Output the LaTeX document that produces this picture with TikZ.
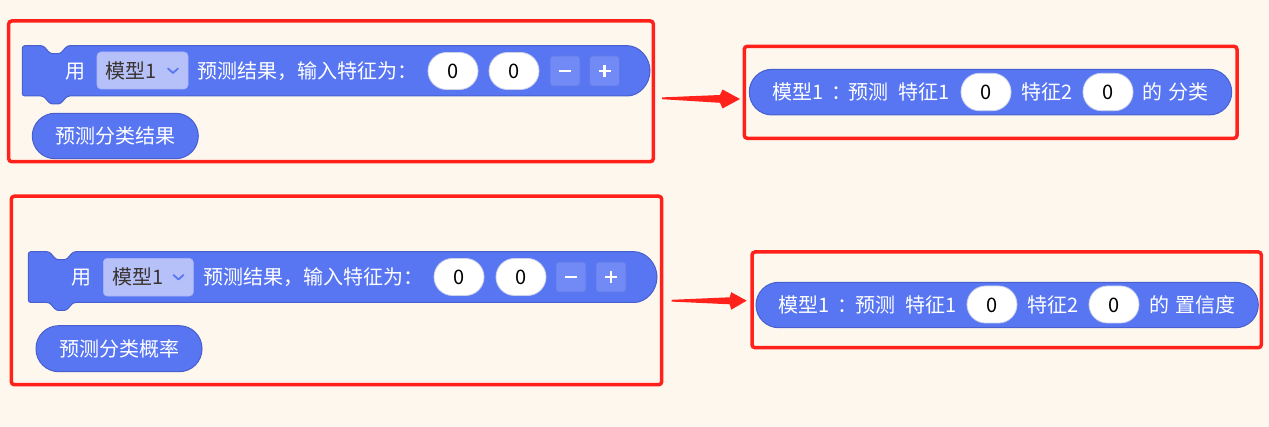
\documentclass[tikz,border=0pt]{standalone}
\usepackage{fontspec}
\setmainfont{Noto Sans CJK SC}
\usetikzlibrary{calc}
\definecolor{bg}{RGB}{254,247,238}
\definecolor{blk}{RGB}{88,118,242}
\definecolor{blkd}{RGB}{72,96,205}
\definecolor{ddfill}{RGB}{182,193,250}
\definecolor{dddraw}{RGB}{168,181,246}
\definecolor{ddtext}{RGB}{58,52,46}
\definecolor{btn}{RGB}{114,138,246}
\definecolor{btnd}{RGB}{98,121,228}
\definecolor{frm}{RGB}{255,34,26}
\definecolor{ovl}{RGB}{205,210,232}
\begin{document}
\begin{tikzpicture}[x=1pt,y=-1pt,
  font=\fontsize{20}{24}\selectfont,
  txt/.style={anchor=west, inner sep=0pt, text=white, text height=16.5pt, text depth=1.3pt},
  frame/.style={draw=frm, line width=3.5pt, rounded corners=3pt, inner sep=0pt},
  bar/.style={fill=blk, draw=blkd, line width=1pt, rounded corners=2.5pt},
  pill/.style={fill=blk, draw=blkd, line width=1pt, rounded corners=22.7pt, inner sep=0pt,
    minimum height=45.4pt, text=white, text height=16.5pt, text depth=1.3pt},
  oval/.style={fill=white, draw=ovl, line width=0.8pt, rounded corners=18.5pt, inner sep=0pt,
    minimum width=50pt, minimum height=37pt, text=black, text height=16.5pt, text depth=1.3pt},
  dropdown/.style={fill=ddfill, draw=dddraw, line width=0.6pt, rounded corners=4pt, inner sep=0pt,
    minimum width=91pt, minimum height=37pt},
  btnbox/.style={fill=btn, draw=btnd, line width=0.8pt, rounded corners=3pt, inner sep=0pt,
    minimum width=30pt, minimum height=30pt},
  sign/.style={draw=white, line width=2.6pt},
  chev/.style={draw=blk, line width=1.8pt, line cap=round, line join=round},
  redarrow/.style={fill=frm},
]
\useasboundingbox (0,0) rectangle (1269,427);
\fill[bg] (0,0) rectangle (1269,427);

% ---------- red frames ----------
\node[frame, minimum width=644.6pt, minimum height=140.7pt] (fA) at (331,91.35) {};
\node[frame, minimum width=492.7pt, minimum height=92pt] (fB) at (990.65,92.3) {};
\node[frame, minimum width=650.4pt, minimum height=188.5pt] (fC) at (336.5,290.45) {};
\node[frame, minimum width=509.3pt, minimum height=95.7pt] (fD) at (1006.65,299.85) {};

% ---------- top-left block ----------
\draw[bar] (340,45.7) -- (624.85,45.7) arc[start angle=90, end angle=-90, radius=25.15pt]
  -- (67.3,96) -- (60.3,104) -- (50.3,104) -- (43.3,96) -- (22.3,96)
  -- (22.3,45.7) -- (43.3,45.7) -- (50.3,53.7) -- (60.3,53.7) -- (67.3,45.7) -- cycle;
\node[txt] (tUse) at (65.7,71) {用};
\node[dropdown] (tDD) at (142.5,70.5) {};
\node[txt, text=ddtext] (tModel) at (105.7,71) {模型1};
\draw[chev] ($(tDD.center)+(25.5,-2)$) -- ($(tDD.center)+(30.5,2.5)$) -- ($(tDD.center)+(35.5,-2)$);
\node[txt] (tLabel) at (197.3,71) {预测结果，输入特征为：};
\node[oval] (tO1) at (453,71) {0};
\node[oval] (tO2) at (514,71) {0};
\node[btnbox] (tMinus) at (565,71) {};
\node[btnbox] (tPlus) at (604.5,71) {};
\draw[sign] ($(tMinus.center)+(-6,0)$) -- ($(tMinus.center)+(6,0)$);
\draw[sign] ($(tPlus.center)+(-6,0)$) -- ($(tPlus.center)+(6,0)$);
\draw[sign] ($(tPlus.center)+(0,-6)$) -- ($(tPlus.center)+(0,6)$);
\node[pill, minimum width=166pt] (tRes) at (115.3,136) {预测分类结果};

% ---------- bottom-left block ----------
\draw[bar] (340,251.7) -- (631.6,251.7) arc[start angle=90, end angle=-90, radius=25.4pt]
  -- (73.3,302.5) -- (66.3,310.5) -- (56.3,310.5) -- (49.3,302.5) -- (28.3,302.5)
  -- (28.3,251.7) -- (49.3,251.7) -- (56.3,259.7) -- (66.3,259.7) -- (73.3,251.7) -- cycle;
\node[txt] (bUse) at (71.7,277) {用};
\node[dropdown, minimum width=90pt, minimum height=37.7pt] (bDD) at (148.3,277.2) {};
\node[txt, text=ddtext] (bModel) at (112.3,277) {模型1};
\draw[chev] ($(bDD.center)+(25.2,-2.2)$) -- ($(bDD.center)+(30.2,2.3)$) -- ($(bDD.center)+(35.2,-2.2)$);
\node[txt] (bLabel) at (203,277) {预测结果，输入特征为：};
\node[oval] (bO1) at (459,277) {0};
\node[oval] (bO2) at (521,277) {0};
\node[btnbox] (bMinus) at (571,277) {};
\node[btnbox] (bPlus) at (611,277) {};
\draw[sign] ($(bMinus.center)+(-6,0)$) -- ($(bMinus.center)+(6,0)$);
\draw[sign] ($(bPlus.center)+(-6,0)$) -- ($(bPlus.center)+(6,0)$);
\draw[sign] ($(bPlus.center)+(0,-6)$) -- ($(bPlus.center)+(0,6)$);
\node[pill, minimum width=166pt, minimum height=46pt] (bRes) at (119,348.7) {预测分类概率};

% ---------- top-right block ----------
\node[pill, minimum width=482.4pt, minimum height=45.7pt] (rA) at (990.5,92.15) {};
\node[txt] (rAm) at (772,92) {模型1};
\node[txt] (rAc) at (831.5,92) {：};
\node[txt] (rAp) at (848,92) {预测};
\node[txt] (rAf1) at (898,92) {特征1};
\node[oval, minimum height=37.4pt] (rAo1) at (986,92) {0};
\node[txt] (rAf2) at (1021,92) {特征2};
\node[oval, minimum height=37.4pt] (rAo2) at (1108,92) {0};
\node[txt] (rAd) at (1142,92) {的};
\node[txt] (rAk) at (1168,92) {分类};

% ---------- bottom-right block ----------
\node[pill, minimum width=502.3pt] (rD) at (1007.15,305) {};
\node[txt] (rDm) at (778.3,304.5) {模型1};
\node[txt] (rDc) at (837.5,304.5) {：};
\node[txt] (rDp) at (855,304.5) {预测};
\node[txt] (rDf1) at (905.7,304.5) {特征1};
\node[oval] (rDo1) at (992,304.5) {0};
\node[txt] (rDf2) at (1027,304.5) {特征2};
\node[oval] (rDo2) at (1114,304.5) {0};
\node[txt] (rDd) at (1149,304.5) {的};
\node[txt] (rDk) at (1175,304.5) {置信度};

% ---------- arrows ----------
\coordinate (a1s) at (662,98.3);
\coordinate (a1e) at (740,99);
\fill[redarrow] ($(a1s)+(0,-0.9)$) -- ($(a1e)+(-20,-4)$) -- ($(a1e)+(-17.5,-9.5)$) -- (a1e)
  -- ($(a1e)+(-17.5,9.5)$) -- ($(a1e)+(-20,3.8)$) -- ($(a1s)+(0,0.9)$) -- cycle;
\coordinate (a2s) at (671.7,300.7);
\coordinate (a2e) at (746.7,300.7);
\fill[redarrow] ($(a2s)+(0,-0.9)$) -- ($(a2e)+(-17,-3.4)$) -- ($(a2e)+(-15.5,-8.5)$) -- (a2e)
  -- ($(a2e)+(-15.5,9)$) -- ($(a2e)+(-17,3.6)$) -- ($(a2s)+(0,0.9)$) -- cycle;
\end{tikzpicture}
\end{document}
